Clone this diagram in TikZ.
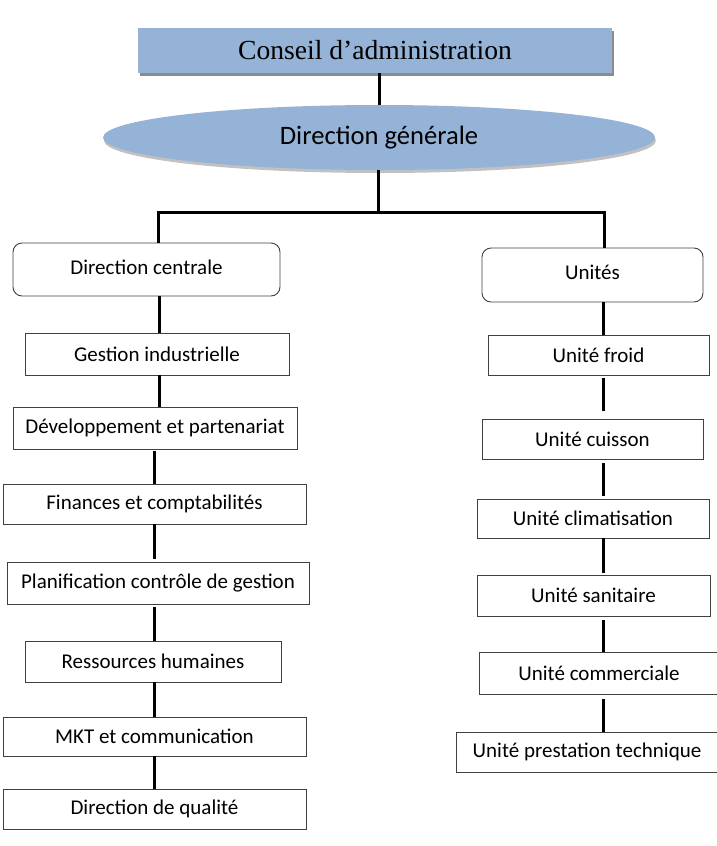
\documentclass[tikz,border=0pt]{standalone}
\usepackage{fontspec}
\setmainfont{Carlito}
\newfontfamily\timesfont{Liberation Serif}
\usetikzlibrary{shapes.geometric,shadows}
\definecolor{officeblue}{RGB}{149,179,215}
\tikzset{
  orgbox/.style={draw=black!75, line width=0.9pt, rectangle, fill=white,
     inner sep=0pt, align=center, font=\fontsize{21}{24}\selectfont},
  roundbox/.style={orgbox, rounded corners=9pt},
  link/.style={draw=black, line width=3pt},
}
\begin{document}
\begin{tikzpicture}[x=1pt,y=-1pt]
\useasboundingbox (0,0) rectangle (716,846);
% top level
\node[rectangle, fill=officeblue, minimum width=474pt, minimum height=45pt, inner sep=0pt,
  drop shadow={shadow xshift=2pt, shadow yshift=-3pt, fill=black!45, opacity=1},
  font=\timesfont\fontsize{27.6}{30}\selectfont] (ca) at (375,50.5) {Conseil d’administration};
\node[ellipse, fill=officeblue, minimum width=552pt, minimum height=65pt, inner sep=0pt,
  drop shadow={shadow xshift=1pt, shadow yshift=-3pt, fill=black!30, opacity=0.8},
  font=\fontsize{26.6}{30}\selectfont] (dg) at (379,137.5) {Direction générale};
% second level
\node[roundbox, minimum width=267pt, minimum height=53pt] (dc) at (146.5,269.5) {\raisebox{5pt}{Direction centrale}};
\node[roundbox, minimum width=221pt, minimum height=54pt] (un) at (592.5,275) {\raisebox{5pt}{Unités}};
% left column
\node[orgbox, minimum width=264pt, minimum height=42pt] (gi) at (157,354) {Gestion industrielle};
\node[orgbox, minimum width=284pt, minimum height=42pt] (dev) at (155,428) {Développement et partenariat};
\node[orgbox, minimum width=303pt, minimum height=40pt] (fin) at (154.5,504) {Finances et comptabilités};
\node[orgbox, minimum width=302pt, minimum height=42pt] (plan) at (158,583) {Planification contrôle de gestion};
\node[orgbox, minimum width=256pt, minimum height=41pt] (res) at (153,661.5) {Ressources humaines};
\node[orgbox, minimum width=303pt, minimum height=39pt] (mkt) at (154.5,736.5) {MKT et communication};
\node[orgbox, minimum width=303pt, minimum height=40pt] (dq) at (154.5,809) {Direction de qualité};
% right column
\node[orgbox, minimum width=221pt, minimum height=40pt] (uf) at (598.5,355) {Unité froid};
\node[orgbox, minimum width=221pt, minimum height=40pt] (uc) at (592.5,439) {Unité cuisson};
\node[orgbox, minimum width=232pt, minimum height=39pt] (ucl) at (593,518.5) {Unité climatisation};
\node[orgbox, minimum width=233pt, minimum height=41pt] (us) at (593.5,595.5) {Unité sanitaire};
\node[orgbox, minimum width=240pt, minimum height=42pt] (ucom) at (599,673) {Unité commerciale};
\node[orgbox, minimum width=262pt, minimum height=40pt] (upt) at (587,752) {Unité prestation technique};
% guide coordinates
\coordinate (bar) at (0,212);
\coordinate (lx) at (159,0);
\coordinate (lx2) at (154,0);
\coordinate (rx) at (603,0);
% top connectors
\draw[link] (ca.south -| dg.north) -- (dg.north);
\draw[link] ([xshift=-1pt]dg.south) -- ([xshift=-1pt]dg.south |- bar);
\draw[link] (dc.north -| 158,0) -- (158,212) -- (604,212) -- (un.north -| 604,0);
% left chain
\draw[link] (dc.south -| lx) -- (gi.north -| lx);
\draw[link] (gi.south -| lx) -- (dev.north -| lx);
\draw[link, shorten <=2pt] (dev.south -| lx2) -- (fin.north -| lx2);
\draw[link, shorten >=3pt] (fin.south -| lx2) -- (plan.north -| lx2);
\draw[link, shorten <=3pt] (plan.south -| lx2) -- (res.north -| lx2);
\draw[link] (res.south -| lx2) -- (mkt.north -| lx2);
\draw[link] (mkt.south -| lx2) -- (dq.north -| lx2);
% right chain
\draw[link] (un.south -| rx) -- (uf.north -| rx);
\draw[link, shorten <=3pt, shorten >=8pt] (uf.south -| rx) -- (uc.north -| rx);
\draw[link, shorten <=4pt, shorten >=3pt] (uc.south -| rx) -- (ucl.north -| rx);
\draw[link, shorten >=2pt] (ucl.south -| rx) -- (us.north -| rx);
\draw[link, shorten <=4pt] (us.south -| rx) -- (ucom.north -| rx);
\draw[link, shorten <=5pt] (ucom.south -| rx) -- (upt.north -| rx);
\end{tikzpicture}
\end{document}
